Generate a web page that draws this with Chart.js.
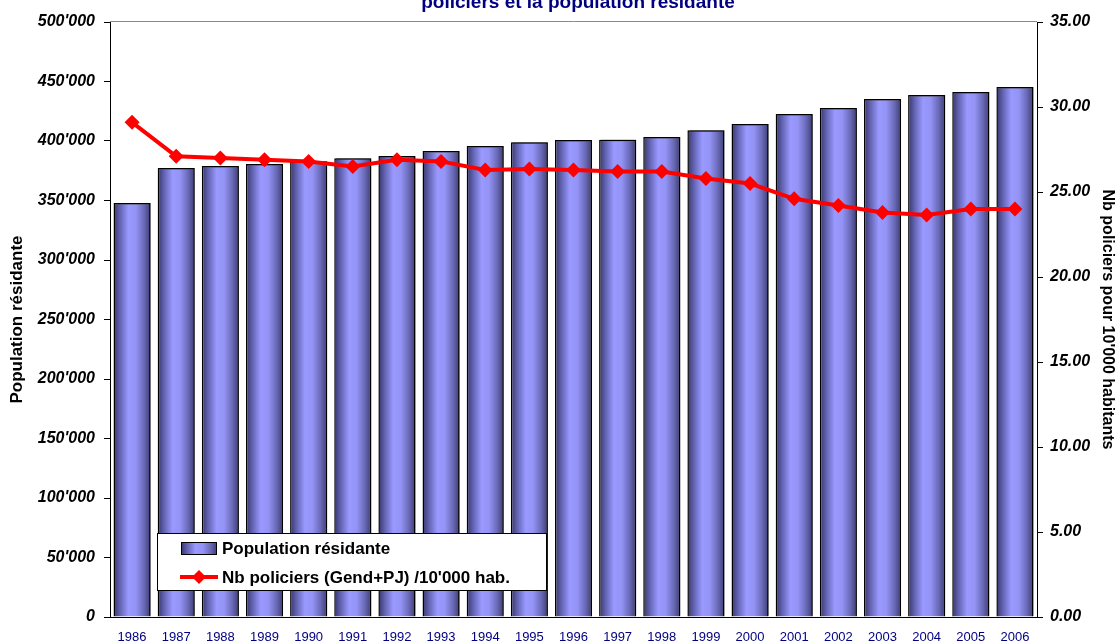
<!DOCTYPE html>
<html>
<head>
<meta charset="utf-8">
<script src="https://cdn.jsdelivr.net/npm/chart.js@4.4.1/dist/chart.umd.min.js"></script>
<style>
  html, body { margin: 0; padding: 0; background: #fff; }
  #wrap { width: 1117px; height: 642px; position: relative; }
</style>
</head>
<body>
<div id="wrap"><canvas id="chart"></canvas></div>
<script>
"use strict";

// data
var years = ["1986", "1987", "1988", "1989", "1990", "1991", "1992", "1993", "1994", "1995", "1996",
  "1997", "1998", "1999", "2000", "2001", "2002", "2003", "2004", "2005", "2006"];
var population = [348000, 377300, 379000, 380700, 383000, 385500, 387400, 391600, 395800, 399000, 400800,
  401000, 403400, 409000, 414300, 422700, 427700, 435300, 438700, 441200, 445400];
var policiersPour10000 = [29.1, 27.1, 27.0, 26.9, 26.8, 26.5, 26.9, 26.8, 26.3, 26.35, 26.3,
  26.2, 26.2, 25.8, 25.5, 24.6, 24.2, 23.8, 23.65, 24.0, 24.0];

var titleLine = "policiers et la population résidante";
var leftTitle = "Population résidante";
var rightTitle = "Nb policiers pour 10'000 habitants";
var barLabel = "Population résidante";
var lineLabel = "Nb policiers (Gend+PJ) /10'000 hab.";

var FONT = "Arial, 'Liberation Sans', sans-serif";

function fmtThousands(v) {
  return String(v).replace(/\B(?=(\d{3})+(?!\d))/g, "'");
}

function addStops(g) {
  g.addColorStop(0, "#35356a");
  g.addColorStop(0.18, "#6464b4");
  g.addColorStop(0.4, "#9999ff");
  g.addColorStop(0.6, "#9494f6");
  g.addColorStop(0.82, "#6a6ab8");
  g.addColorStop(1, "#3c3c72");
  return g;
}

/*-- horizontal gradient for each bar --*/
function barGradient(ctx) {
  var chart = ctx.chart;
  var xs = chart.scales.x;
  if (!xs || !chart.chartArea || ctx.dataIndex === undefined) return "#9999ff";
  var cx = xs.getPixelForValue(ctx.dataIndex);
  var half = (xs.width / years.length) * 0.84 / 2;
  return addStops(chart.ctx.createLinearGradient(cx - half, 0, cx + half, 0));
}

/*-- title, border, legend --*/
var decorPlugin = {
  id: "decor",
  beforeDatasetDraw: function (chart, args) {
    if (args.index === 0) {
      var c = chart.ctx;
      c.save();
      c.shadowColor = "rgba(0,0,0,0.45)";
      c.shadowOffsetX = 2;
      c.shadowOffsetY = -1;
      c.shadowBlur = 0;
    }
  },
  afterDatasetDraw: function (chart, args) {
    if (args.index === 0) chart.ctx.restore();
  },
  afterDraw: function (chart) {
    var c = chart.ctx;
    var a = chart.chartArea;
    c.save();
    // top plot border
    c.strokeStyle = "#8a8a8a";
    c.lineWidth = 1;
    c.beginPath();
    c.moveTo(a.left, a.top - 0.5);
    c.lineTo(a.right, a.top - 0.5);
    c.stroke();

    // cut-off title
    c.fillStyle = "#000080";
    c.font = "bold 19px " + FONT;
    c.textAlign = "center";
    c.textBaseline = "alphabetic";
    c.fillText(titleLine, 578, 8);

    // legend box
    c.fillStyle = "#fff";
    c.fillRect(157, 533, 389, 57);
    c.strokeStyle = "#000";
    c.lineWidth = 1;
    c.strokeRect(157.5, 533.5, 389, 57);

    // bar swatch
    c.fillStyle = addStops(c.createLinearGradient(181, 0, 217, 0));
    c.fillRect(181, 542, 36, 13);
    c.strokeRect(181.5, 542.5, 35, 12);

    // line swatch
    c.strokeStyle = "#ff0000";
    c.lineWidth = 4;
    c.beginPath();
    c.moveTo(180, 577);
    c.lineTo(218, 577);
    c.stroke();
    c.fillStyle = "#ff0000";
    c.beginPath();
    c.moveTo(199, 570);
    c.lineTo(206, 577);
    c.lineTo(199, 584);
    c.lineTo(192, 577);
    c.closePath();
    c.fill();

    c.fillStyle = "#000";
    c.font = "bold 17px " + FONT;
    c.textAlign = "left";
    c.textBaseline = "middle";
    c.fillText(barLabel, 222, 549);
    c.fillText(lineLabel, 222, 578);
    c.restore();
  }
};

new Chart(document.getElementById("chart").getContext("2d"), {
  data: {
    labels: years,
    datasets: [{
      type: "bar",
      label: barLabel,
      data: population,
      yAxisID: "y",
      backgroundColor: barGradient,
      borderColor: "#000",
      borderWidth: 1.5,
      barPercentage: 0.84,
      categoryPercentage: 1,
      order: 1
    }, {
      type: "line",
      label: lineLabel,
      data: policiersPour10000,
      yAxisID: "y2",
      borderColor: "#ff0000",
      backgroundColor: "#ff0000",
      borderWidth: 4,
      pointStyle: "rectRot",
      pointRadius: 7.5,
      pointBorderWidth: 0,
      pointBackgroundColor: "#ff0000",
      tension: 0,
      order: 0
    }]
  },
  options: {
    responsive: true,
    maintainAspectRatio: false,
    animation: false,
    layout: { padding: { top: 22, left: 0, right: 0, bottom: 0 } },
    plugins: {
      legend: { display: false },
      tooltip: { enabled: false },
      title: { display: false }
    },
    scales: {
      x: {
        grid: { display: false, drawTicks: false },
        border: { display: true, color: "#000", width: 1 },
        ticks: { color: "#000080", font: { family: FONT, size: 13 }, padding: 13, maxRotation: 0, autoSkip: false },
        afterFit: function (s) { s.height = 25; }
      },
      y: {
        position: "left",
        min: 0,
        max: 500000,
        grid: { drawOnChartArea: false, drawTicks: true, tickLength: 6, color: "#000" },
        border: { display: true, color: "#000", width: 1 },
        ticks: {
          stepSize: 50000,
          color: "#000",
          padding: 9,
          font: { family: FONT, size: 16, weight: "bold", style: "italic" },
          callback: function (v) { return fmtThousands(v); }
        },
        title: {
          display: true,
          text: leftTitle,
          color: "#000",
          font: { family: FONT, size: 17, weight: "bold" },
          padding: { top: 7, bottom: 0 }
        },
        afterFit: function (s) { s.width = 110; }
      },
      y2: {
        position: "right",
        min: 0,
        max: 35,
        grid: { drawOnChartArea: false, drawTicks: true, tickLength: 6, color: "#000" },
        border: { display: true, color: "#000", width: 1 },
        ticks: {
          stepSize: 5,
          color: "#000",
          padding: 7,
          font: { family: FONT, size: 16, weight: "bold", style: "italic" },
          callback: function (v) { return v.toFixed(2); }
        },
        title: {
          display: true,
          text: rightTitle,
          color: "#000",
          font: { family: FONT, size: 16, weight: "bold" },
          padding: { top: 0, bottom: 2 }
        },
        afterFit: function (s) { s.width = 80; }
      }
    }
  },
  plugins: [decorPlugin]
});
</script>
</body>
</html>
